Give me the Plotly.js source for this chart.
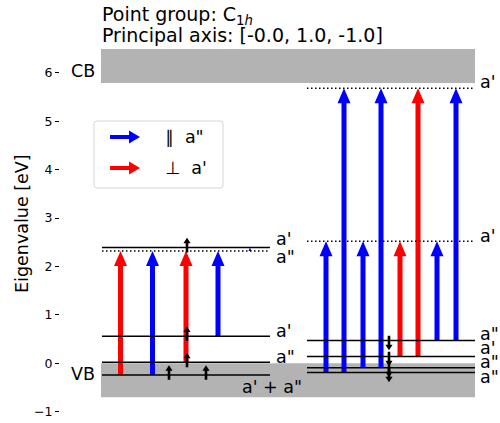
<!DOCTYPE html>
<html>
<head>
<meta charset="utf-8">
<script src="https://cdn.plot.ly/plotly-3.0.1.min.js"></script>
<style>
  html, body { margin: 0; padding: 0; background: #ffffff; }
  #chart { width: 500px; height: 423px; }
</style>
</head>
<body>
<div id="chart"></div>
<script>
// ---- Kohn-Sham levels in the gap (eV) ----
// spin-up column
const upLevels   = [2.39, 2.32, 0.56, 0.02, -0.24];
const upOccupied = [true, false, true, true, true];
const upLabels   = ["a'", 'a"', "a'", 'a"', "a' + a\""];
// spin-down column
const downLevels   = [5.68, 2.52, 0.47, 0.14, -0.09, -0.19];
const downOccupied = [false, false, true, true, true, true];
const downLabels   = ["a'", "a'", 'a"', "a'", 'a"', 'a"'];

// band regions (eV)
const vbBand = [-0.70, 0.00];
const cbBand = [5.79, 6.49];

// optical transitions: start level, end level, polarisation
const upTransFrom = [-0.24, -0.24, 0.02, 0.56, 2.32];
const upTransTo   = [2.32, 2.32, 2.32, 2.32, 2.39];
const upTransPol  = ['perp', 'par', 'perp', 'par', 'par'];
const downTransFrom = [-0.19, -0.19, -0.09, -0.09, 0.14, 0.14, 0.47, 0.47];
const downTransTo   = [2.52, 5.68, 2.52, 5.68, 2.52, 5.68, 2.52, 5.68];
const downTransPol  = ['par', 'par', 'par', 'par', 'perp', 'perp', 'par', 'par'];

// electrons sitting in occupied levels
const upElectrons   = [2.39, 0.56, 0.02, -0.24, -0.24];
const downElectrons = [0.47, 0.14, -0.09, -0.19];

// legend entries and axis ticks
const legendSymbols = ['\u2225', '\u22A5'];
const legendNames   = ['a"', "a'"];
const legendPols    = ['par', 'perp'];
const yTicks = [-1, 0, 1, 2, 3, 4, 5, 6];
const yTickText = ['\u22121', '0', '1', '2', '3', '4', '5', '6'];

const titleLines = ['Point group: C<sub>1<i>h</i></sub>', 'Principal axis: [-0.0, 1.0, -1.0]'];
const yTitle = 'Eigenvalue [eV]';

// ---- layout of the diagram (x axis runs in screen pixels) ----
const FONT = 'DejaVu Sans';
const W = 500, H = 423, M_L = 60, M_T = 45;
const PX_PER_EV = 48.43, ZERO_PX = 363.3;
const evAt = py => (ZERO_PX - py) / PX_PER_EV;   // screen row -> energy
const pxToEv = p => p / PX_PER_EV;               // pixel length -> energy
const paperX = px => (px - M_L) / (W - M_L);
const paperY = py => (H - py) / (H - M_T);

const upCol   = { x0: 102, x1: 270, labelX: 274 };
const downCol = { x0: 307, x1: 475, labelX: 478 };
const bandX = [101, 475];

const upTransX   = [120.5, 152.5, 186, 218, 250];
const downTransX = [326, 344, 363, 381, 400, 418, 437, 456];
const upElecX    = [187, 187, 187, 169, 206];
const downElecX  = [389, 389, 389, 389];

const upLabelShift   = [9, -6, 5, 5, -12];
const downLabelShift = [6, 5, 7, 9, 6, -4];
const upLabelAnchor  = ['left', 'left', 'left', 'left', 'center'];

const polColor = { par: '#0000ff', perp: '#ff0000' };

function vArrow(x, y0, y1, shaftHalf, headHalf, headLen) {
  const dir = Math.sign(y1 - y0) || 1;
  const len = Math.abs(y1 - y0);
  let hl = headLen, hh = headHalf, sh = shaftHalf;
  if (hl > len) { const k = len / hl; hl = len; hh *= k; sh *= k; }
  const yb = y1 - dir * hl;
  return {
    x: [x - sh, x + sh, x + sh, x + hh, x, x - hh, x - sh, x - sh],
    y: [y0, y0, yb, yb, y1, yb, yb, y0]
  };
}

function hArrow(x0, x1, y, shaftHalfPx, headHalfPx, headLen) {
  const ys = pxToEv(shaftHalfPx), yh = pxToEv(headHalfPx);
  const xb = x1 - headLen;
  return {
    x: [x0, xb, xb, x1, xb, xb, x0, x0],
    y: [y - ys, y - ys, y - yh, y, y + yh, y + ys, y + ys, y - ys]
  };
}

function polyTrace(p, color) {
  return {
    type: 'scatter', mode: 'lines', x: p.x, y: p.y,
    fill: 'toself', fillcolor: color,
    line: { width: 0, color: color },
    hoverinfo: 'skip', showlegend: false
  };
}

const traces = [];

// transition arrows
const bigShaft = 2.5, bigHead = 6.5, bigHeadLen = pxToEv(15);
upTransFrom.forEach((f, i) => {
  traces.push(polyTrace(vArrow(upTransX[i], f, upTransTo[i], bigShaft, bigHead, bigHeadLen), polColor[upTransPol[i]]));
});
downTransFrom.forEach((f, i) => {
  traces.push(polyTrace(vArrow(downTransX[i], f, downTransTo[i], bigShaft, bigHead, bigHeadLen), polColor[downTransPol[i]]));
});

// levels
function levelTrace(col, e, occ) {
  return {
    type: 'scatter', mode: 'lines', x: [col.x0, col.x1], y: [e, e],
    line: { color: '#000000', width: 1.5, dash: occ ? 'solid' : '1.5px,2.5px' },
    hoverinfo: 'skip', showlegend: false
  };
}
upLevels.forEach((e, i) => traces.push(levelTrace(upCol, e, upOccupied[i])));
downLevels.forEach((e, i) => traces.push(levelTrace(downCol, e, downOccupied[i])));

// electrons: spin-up point up, spin-down point down
const eShaft = 1.3, eHead = 3.6, eHeadLen = pxToEv(5.5);
upElectrons.forEach((e, i) => {
  traces.push(polyTrace(vArrow(upElecX[i], e - 0.1, e + 0.2, eShaft, eHead, eHeadLen), '#000000'));
});
downElectrons.forEach((e, i) => {
  traces.push(polyTrace(vArrow(downElecX[i], e + 0.1, e - 0.2, eShaft, eHead, eHeadLen), '#000000'));
});

// legend box with arrow keys
const legBox = { x0: 94, x1: 223, y0: evAt(188), y1: evAt(121) };
const legRows = [evAt(137), evAt(168)];
legendPols.forEach((p, i) => {
  traces.push(polyTrace(hArrow(110, 140, legRows[i], 2, 6.5, 11), polColor[p]));
});

function roundRectPath(b, rPx) {
  const rx = rPx, ry = pxToEv(rPx);
  return `M${b.x0 + rx},${b.y1} L${b.x1 - rx},${b.y1} Q${b.x1},${b.y1} ${b.x1},${b.y1 - ry} ` +
         `L${b.x1},${b.y0 + ry} Q${b.x1},${b.y0} ${b.x1 - rx},${b.y0} ` +
         `L${b.x0 + rx},${b.y0} Q${b.x0},${b.y0} ${b.x0},${b.y0 + ry} ` +
         `L${b.x0},${b.y1 - ry} Q${b.x0},${b.y1} ${b.x0 + rx},${b.y1} Z`;
}

const shapes = [
  { type: 'rect', xref: 'x', yref: 'y', x0: bandX[0], x1: bandX[1], y0: vbBand[0], y1: vbBand[1],
    fillcolor: '#b3b3b3', line: { width: 0 }, layer: 'below' },
  { type: 'rect', xref: 'x', yref: 'y', x0: bandX[0], x1: bandX[1], y0: cbBand[0], y1: cbBand[1],
    fillcolor: '#b3b3b3', line: { width: 0 }, layer: 'below' },
  { type: 'path', xref: 'x', yref: 'y', path: roundRectPath(legBox, 3),
    fillcolor: 'rgba(255,255,255,0.8)', line: { color: '#d6d6d6', width: 1 }, layer: 'below' }
];

const txt = (size) => ({ family: FONT, size: size, color: '#000000' });
const annotations = [];

upLevels.forEach((e, i) => {
  const anchor = upLabelAnchor[i];
  annotations.push({ xref: 'x', yref: 'y', x: anchor === 'center' ? upCol.x1 + 2 : upCol.labelX, y: e,
    yshift: upLabelShift[i], text: upLabels[i], showarrow: false,
    xanchor: anchor, yanchor: 'middle', font: txt(17.5) });
});
downLevels.forEach((e, i) => {
  annotations.push({ xref: 'x', yref: 'y', x: downCol.labelX, y: e,
    yshift: downLabelShift[i], text: downLabels[i], showarrow: false,
    xanchor: 'left', yanchor: 'middle', font: txt(17.5) });
});

// band names
annotations.push({ xref: 'x', yref: 'y', x: 69, y: evAt(71), text: 'CB', showarrow: false,
  xanchor: 'left', yanchor: 'middle', font: txt(17.5) });
annotations.push({ xref: 'x', yref: 'y', x: 69, y: evAt(374), text: 'VB', showarrow: false,
  xanchor: 'left', yanchor: 'middle', font: txt(17.5) });

// legend text
legendPols.forEach((p, i) => {
  annotations.push({ xref: 'x', yref: 'y', x: 163, y: legRows[i],
    text: legendSymbols[i] + '  ' + legendNames[i], showarrow: false,
    xanchor: 'left', yanchor: 'middle', font: txt(17.5) });
});

// title lines (outside the plot area, so placed in paper units)
annotations.push({ xref: 'paper', yref: 'paper', x: paperX(100), y: paperY(15), text: titleLines[0], showarrow: false,
  xanchor: 'left', yanchor: 'middle', font: txt(19) });
annotations.push({ xref: 'paper', yref: 'paper', x: paperX(100), y: paperY(35), text: titleLines[1], showarrow: false,
  xanchor: 'left', yanchor: 'middle', font: txt(19) });

// axis title
annotations.push({ xref: 'paper', yref: 'paper', x: paperX(22), y: paperY(224), text: yTitle, showarrow: false,
  textangle: -90, xanchor: 'center', yanchor: 'middle', font: txt(17.5) });

const layout = {
  width: W, height: H,
  margin: { l: M_L, r: 0, t: M_T, b: 0, pad: 0 },
  paper_bgcolor: '#ffffff', plot_bgcolor: '#ffffff',
  showlegend: false,
  xaxis: { range: [M_L, W], visible: false, fixedrange: true },
  yaxis: {
    range: [evAt(H), evAt(M_T)], fixedrange: true,
    tickvals: yTicks, ticktext: yTickText,
    ticks: 'outside', ticklen: 4, tickwidth: 1, tickcolor: '#000000',
    showgrid: false, zeroline: false, showline: false,
    tickfont: txt(12.5)
  },
  shapes: shapes,
  annotations: annotations
};

Plotly.newPlot('chart', traces, layout, { staticPlot: true, displayModeBar: false });
</script>
</body>
</html>
